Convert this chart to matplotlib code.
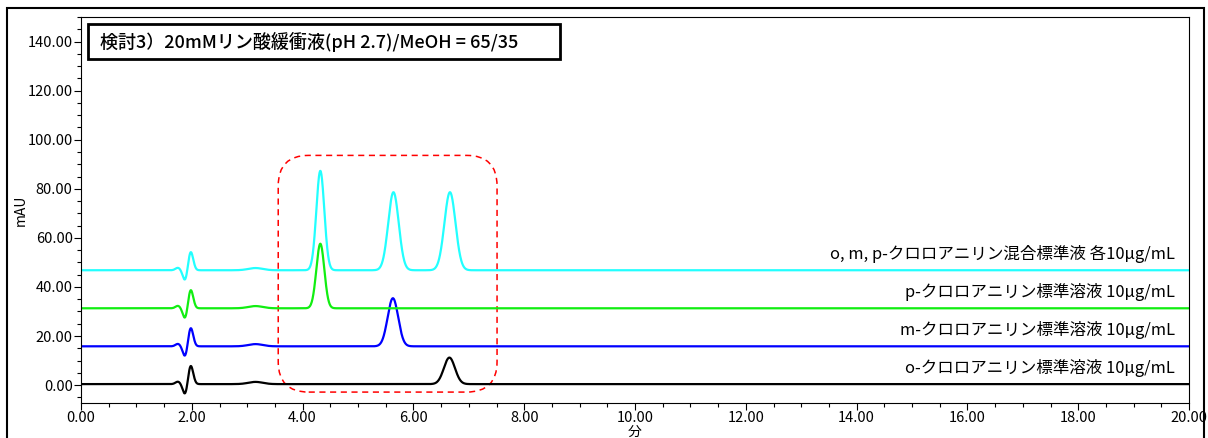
import numpy as np
import matplotlib.pyplot as plt
from matplotlib.patches import FancyBboxPatch, Rectangle
from matplotlib.ticker import MultipleLocator, FormatStrFormatter

plt.rcParams['font.family'] = ['Noto Sans CJK JP', 'DejaVu Sans']

# trace data
trace_names = ["o-クロロアニリン標準溶液 10μg/mL",
               "m-クロロアニリン標準溶液 10μg/mL",
               "p-クロロアニリン標準溶液 10μg/mL",
               "o, m, p-クロロアニリン混合標準液 各10μg/mL"]
trace_colors = ["black", "#0000ff", "#11ee11", "#22ffff"]
baselines = [0.4, 15.8, 31.3, 46.8]

# system peaks near the void (same in every trace)
sys_times = [1.75, 1.88, 1.98, 3.15]
sys_heights = [1.0, -4.3, 7.6, 0.9]
sys_widths = [0.045, 0.042, 0.045, 0.13]

# analyte peaks per trace: retention time (min), height (mAU), sigma (min)
peak_times = [[6.65], [5.63], [4.32], [4.32, 5.64, 6.66]]
peak_heights = [[10.8], [19.6], [26.3], [40.5, 31.8, 31.8]]
peak_widths = [[0.1], [0.095], [0.072], [0.072, 0.095, 0.1]]

t = np.linspace(0, 20, 4001)


def gauss(x, t0, h, s):
    return h * np.exp(-0.5 * ((x - t0) / s) ** 2)


fig = plt.figure(figsize=(12.08, 4.38), dpi=100)
ax = fig.add_axes([81 / 1208, 1 - 403 / 438, 1108 / 1208, 386 / 438])

for i in range(4):
    y = np.full_like(t, baselines[i])
    for t0, h, s in zip(sys_times, sys_heights, sys_widths):
        y += gauss(t, t0, h, s)
    for t0, h, s in zip(peak_times[i], peak_heights[i], peak_widths[i]):
        y += gauss(t, t0, h, s)
    ax.plot(t, y, color=trace_colors[i], lw=1.6)
    ax.text(19.75, baselines[i] + 2.8, trace_names[i], ha="right", va="bottom",
            fontsize=11.9)

# red dashed rounded box around the analyte peaks
box = FancyBboxPatch((3.56, -2.85), 7.51 - 3.56, 93.6 + 2.85,
                     boxstyle="round,pad=0,rounding_size=0.55",
                     mutation_aspect=22.5, fill=False, ec="red", lw=1.1,
                     ls=(0, (4, 3)))
ax.add_patch(box)

# title box
ax.add_patch(Rectangle((0.126, 132.7), 8.52, 14.6, fc="white", ec="black",
                       lw=2, zorder=5))
ax.text(0.34, 140, "検討3）20mMリン酸緩衝液(pH 2.7)/MeOH = 65/35", fontsize=13,
        fontweight="medium", va="center", ha="left", zorder=6)

ax.set_xlim(0, 20)
ax.set_ylim(-7.3, 150)
ax.xaxis.set_major_locator(MultipleLocator(2))
ax.xaxis.set_minor_locator(MultipleLocator(0.5))
ax.yaxis.set_minor_locator(MultipleLocator(5))
ax.set_yticks(np.arange(0, 141, 20))
ax.xaxis.set_major_formatter(FormatStrFormatter("%.2f"))
ax.yaxis.set_major_formatter(FormatStrFormatter("%.2f"))
ax.tick_params(which="major", length=5, width=0.8, labelsize=10.5,
               direction="out", pad=1)
ax.tick_params(which="minor", length=3, width=0.8, direction="out")
for sp in ax.spines.values():
    sp.set_linewidth(0.8)
ax.set_xlabel("分", fontsize=10)
ax.set_ylabel("mAU", fontsize=10)
ax.xaxis.set_label_coords(0.5, -0.057)
ax.yaxis.set_label_coords(-0.048, 0.5)

# outer frame
fig.patches.append(Rectangle((7 / 1208, -0.1), 1197 / 1208, 1.1 - 8 / 438,
                             transform=fig.transFigure, fill=False,
                             ec="black", lw=1.5))

fig.savefig("out.png", dpi=100)
